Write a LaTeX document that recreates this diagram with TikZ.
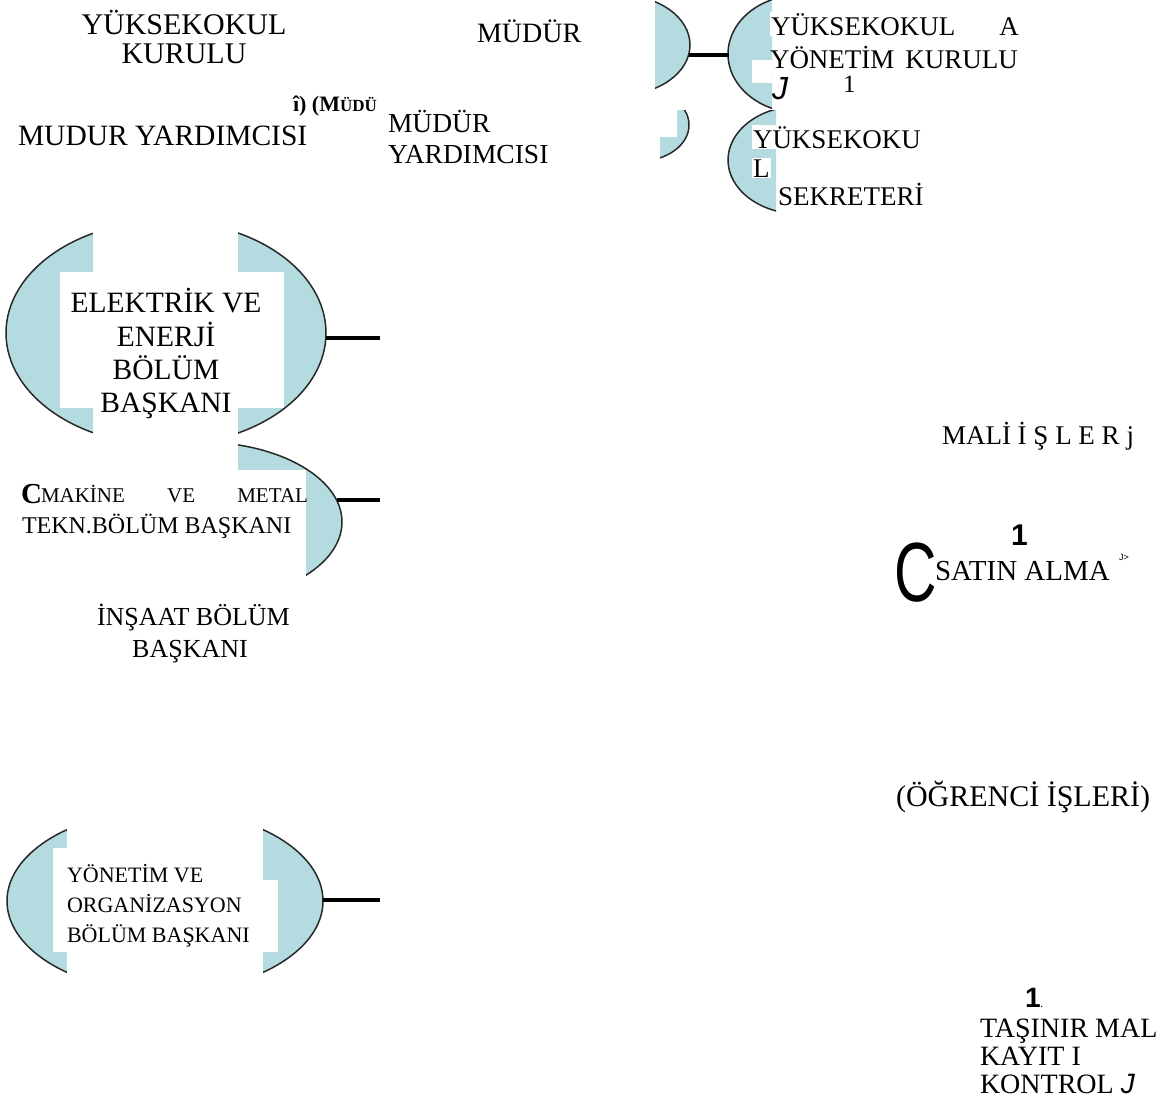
\documentclass[tikz,border=0pt]{standalone}
\usepackage{fontspec}
\setmainfont{Liberation Serif}
\newfontfamily\lsans{Liberation Sans}
\definecolor{lb}{RGB}{180,220,224}
\definecolor{edge}{RGB}{40,40,40}
\begin{document}
\begin{tikzpicture}[x=1pt,y=-1pt,
  blob/.style={fill=lb,draw=edge,line width=1.5pt},
  mask/.style={fill=white,draw=none},
  conn/.style={line width=4.4pt},
  tx/.style={inner sep=0pt,outer sep=0pt,font=\fontsize{#1}{#1}\selectfont},
  wt/.style={tx=#1,fill=white,inner sep=1pt},
  ]
\useasboundingbox (0,0) rectangle (1167,1117);

% ---------- top right shapes ----------
\begin{scope}
  \clip (655,0) rectangle (700,100);
  \draw[blob] (620,45) ellipse [x radius=70pt, y radius=50pt];
\end{scope}
\begin{scope}
  \clip (720,0) rectangle (772,120);
  \draw[blob] (800,54) ellipse [x radius=72pt, y radius=59pt];
\end{scope}
\fill[mask] (752,60) rectangle (772,83);
\coordinate (tl1e) at (688.5,55);
\coordinate (tr1w) at (728.5,55);
\draw[conn] (tl1e) -- (tr1w);

\begin{scope}
  \clip (660,110) rectangle (700,165);
  \draw[blob] (640,125) ellipse [x radius=49pt, y radius=36pt];
\end{scope}
\fill[mask] (660,110) rectangle (677,137);
\begin{scope}
  \clip (720,110) rectangle (776,220);
  \draw[blob] (800,160) ellipse [x radius=72pt, y radius=54pt];
\end{scope}

% ---------- ELEKTRIK ----------
\draw[blob] (166,333) ellipse [x radius=160pt, y radius=112pt];
\fill[mask] (93,215) rectangle (238,447);
\fill[mask] (60,272) rectangle (284,408);
\coordinate (e1e) at (325.5,338);
\coordinate (e1c) at (380,338);
\draw[conn] (e1e) -- (e1c);

% ---------- MAKINE ----------
\begin{scope}
  \clip (238,440) rectangle (400,600);
  \draw[blob] (200,522) ellipse [x radius=142pt, y radius=80pt];
\end{scope}
\fill[mask] (238,470) rectangle (306,600);
\coordinate (m1e) at (336.5,500);
\coordinate (m1c) at (380,500);
\draw[conn] (m1e) -- (m1c);

% ---------- YONETIM ----------
\draw[blob] (165,901) ellipse [x radius=158pt, y radius=91pt];
\fill[mask] (67,805) rectangle (263,1000);
\fill[mask] (53,848) rectangle (70,952);
\fill[mask] (262,880) rectangle (278,952);
\coordinate (y1e) at (323,900);
\coordinate (y1c) at (380,900);
\draw[conn] (y1e) -- (y1c);

% ---------- texts top left ----------
\node[tx=30,anchor=base] (yk1) at (184,34) {YÜKSEKOKUL};
\node[tx=30,anchor=base] (yk2) at (184,63) {KURULU};
\node[tx=28,anchor=base west] (md) at (477,42) {MÜDÜR};
\node[tx=29.5,anchor=base west] (my) at (18,145) {MUDUR YARDIMCISI};
\node[tx=22,anchor=base west] (mb) at (293,111) {\bfseries î) (M{\fontsize{17}{17}\selectfont ÜDÜ}};
\node[tx=27.5,anchor=base west] (mdy1) at (388,132) {MÜDÜR};
\node[tx=27.5,anchor=base west] (mdy2) at (388,163) {YARDIMCISI};

% ---------- texts top right ----------
\node[wt=27,anchor=base west] (yr1) at (770,35) {\makebox[248pt][s]{YÜKSEKOKUL\hfill A}};
\node[tx=27,anchor=base west] (yr2) at (770,68) {\makebox[248pt][s]{YÖNETİM KURULU}};
\node[tx=32,anchor=base west] (yrj) at (772,99) {\lsans\itshape J};
\node[tx=25,anchor=base west] (yr1n) at (843,92) {1};
\node[wt=27,anchor=base west] (sk1) at (752,148) {YÜKSEKOKU};
\node[wt=27,anchor=base west] (sk2) at (752,177) {L};
\node[wt=27,anchor=base west] (sk3) at (777,205) {SEKRETERİ};

% ---------- left texts ----------
\node[tx=29.5,anchor=base] (el1) at (166,312) {ELEKTRİK VE};
\node[tx=29.5,anchor=base] (el2) at (166,346) {ENERJİ};
\node[tx=29.5,anchor=base] (el3) at (166,379) {BÖLÜM};
\node[tx=29.5,anchor=base] (el4) at (166,412) {BAŞKANI};

\node[tx=29,anchor=base west] (mkC) at (21,503) {\bfseries C};
\node[tx=21,anchor=base west] (mk1) at (41,502) {\makebox[267pt][s]{MAKİNE VE METAL}};
\node[tx=24,anchor=base west] (mk2) at (22,533) {TEKN.BÖLÜM BAŞKANI};

\node[tx=26,anchor=base west] (in1) at (97,625) {İNŞAAT BÖLÜM};
\node[tx=26,anchor=base] (in2) at (190,657) {BAŞKANI};

\node[tx=22,anchor=base west] (yo1) at (67,882) {YÖNETİM VE};
\node[tx=22,anchor=base west] (yo2) at (67,912) {ORGANİZASYON};
\node[tx=22,anchor=base west] (yo3) at (67,942) {BÖLÜM BAŞKANI};

% ---------- right texts ----------
\node[tx=27,anchor=base west] (ml) at (942,444) {MALİ İ Ş L E R j};
\node[tx=30,anchor=base west] (s1) at (1011,545) {\lsans\bfseries 1};
\node[tx=84,anchor=base west] (sC) at (894,601) {\lsans\scalebox{0.7}[1]{C}};
\node[tx=29,anchor=base west] (sa) at (935,580) {SATIN ALMA};
\node[tx=9,anchor=base west] (sj) at (1119,560) {\lsans J>};
\node[tx=30,anchor=base west] (og) at (896,806) {(ÖĞRENCİ İŞLERİ)};
\node[tx=28,anchor=base west] (t1) at (1025,1007) {\lsans\bfseries 1{\fontsize{8}{8}\selectfont .}};
\node[tx=28,anchor=base west] (ta1) at (980,1037) {TAŞINIR MAL};
\node[tx=28,anchor=base west] (ta2) at (980,1065) {KAYIT I};
\node[tx=28,anchor=base west] (ta3) at (980,1093) {KONTROL {\lsans\itshape J}};
\end{tikzpicture}
\end{document}
